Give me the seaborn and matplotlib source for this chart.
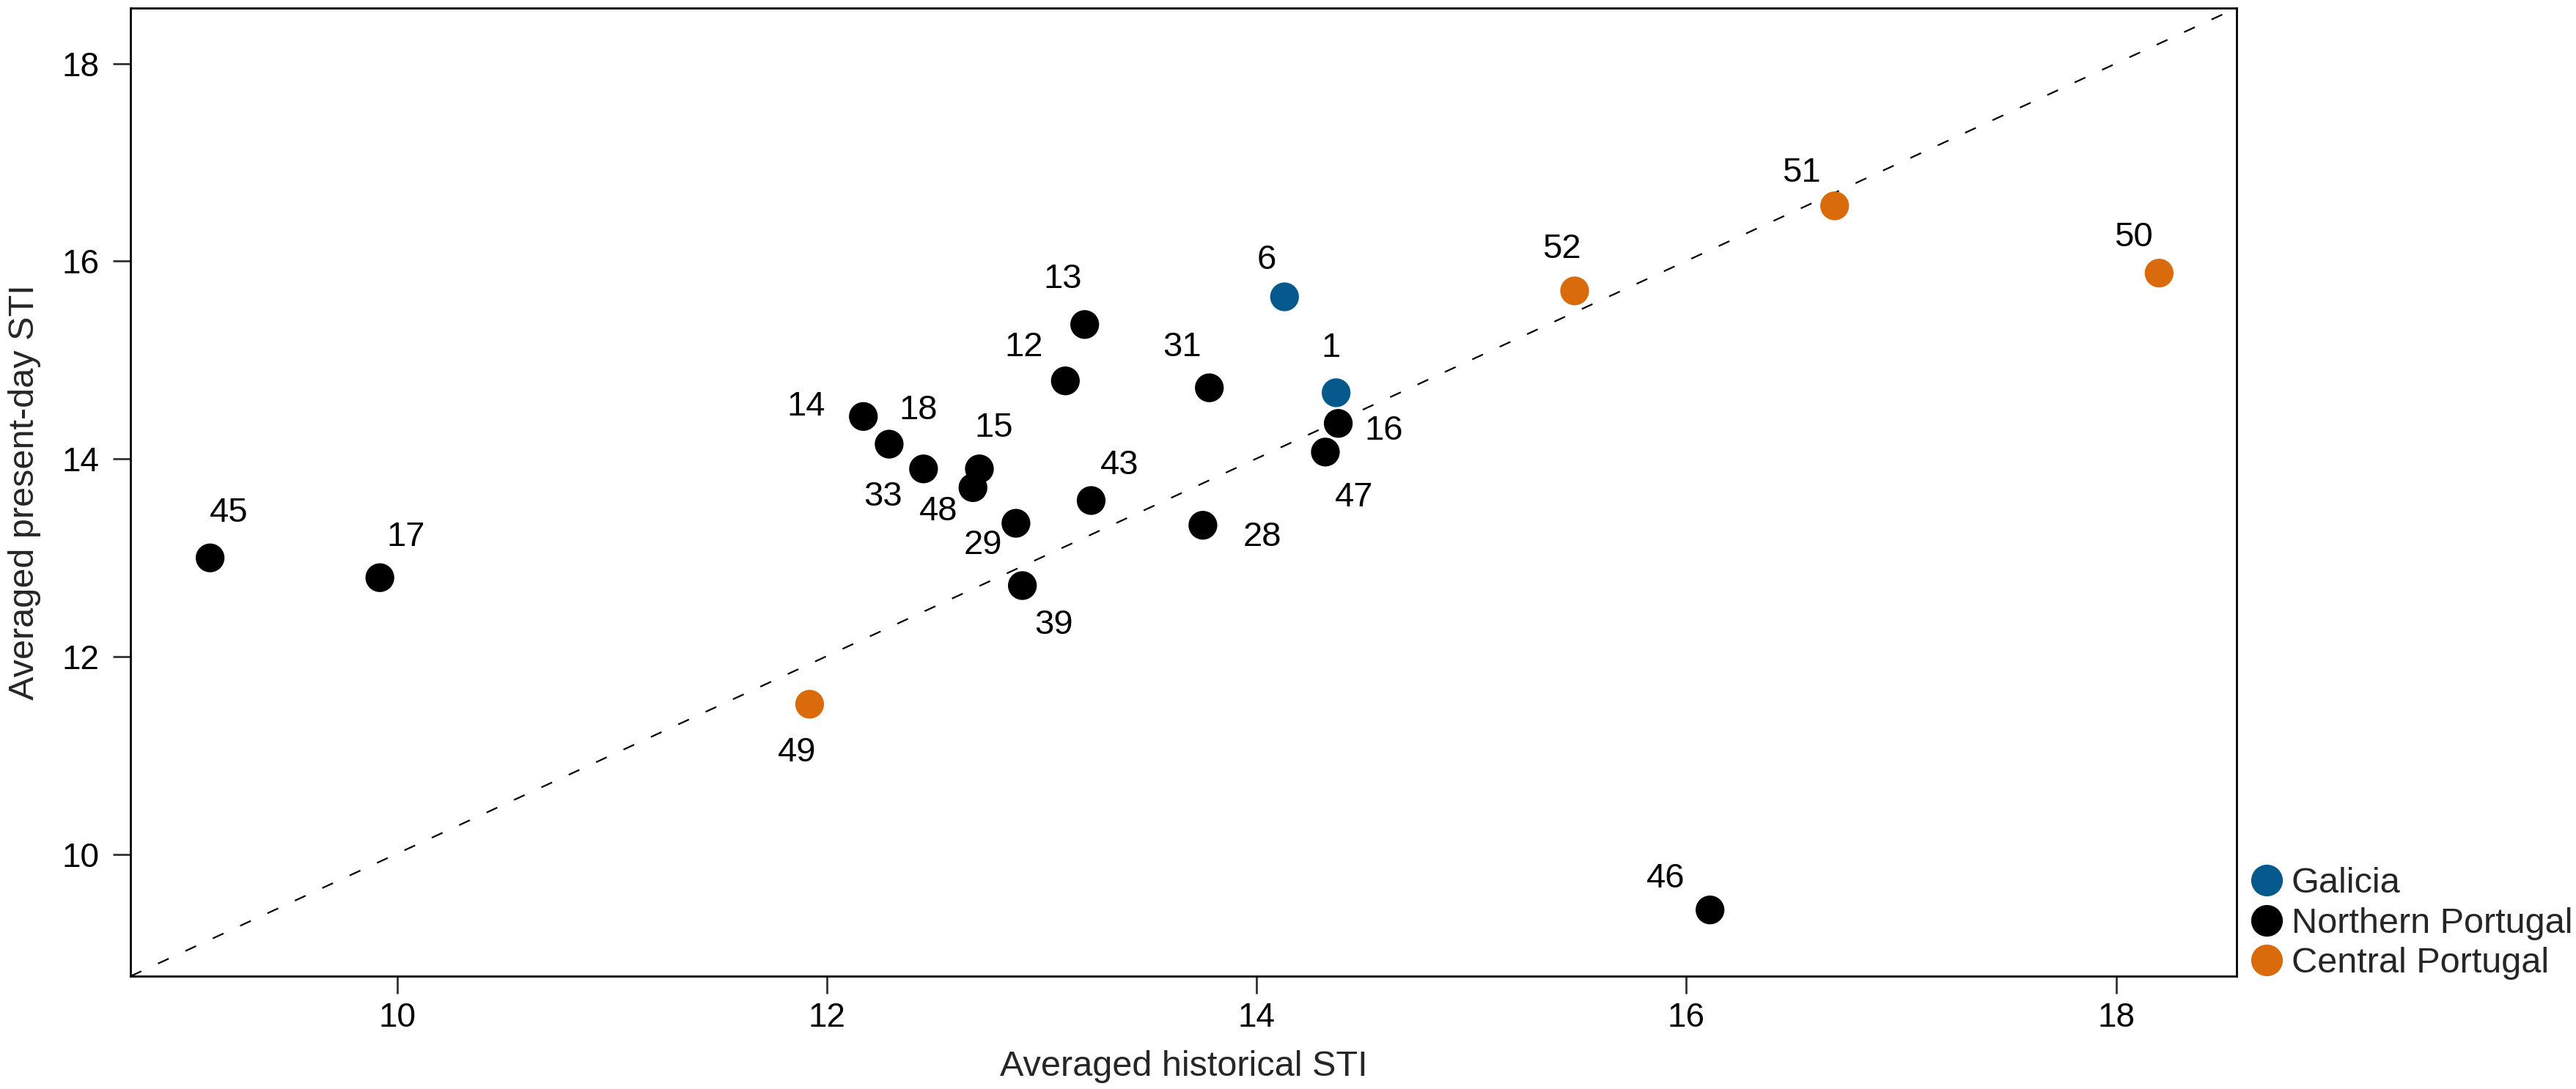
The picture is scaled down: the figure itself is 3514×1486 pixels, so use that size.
import numpy as np
import pandas as pd
import matplotlib.pyplot as plt
import seaborn as sns

# site numbers, averaged STI values and region
sites = ['45', '17', '49', '14', '18', '33', '15', '48', '29', '39', '12', '13',
         '43', '6', '31', '1', '16', '47', '28', '46', '52', '51', '50']
hist_sti = [9.13, 9.92, 11.92, 12.17, 12.29, 12.45, 12.71, 12.68, 12.88, 12.91, 13.11, 13.20,
            13.23, 14.13, 13.78, 14.37, 14.38, 14.32, 13.75, 16.11, 15.48, 16.69, 18.20]
present_sti = [13.00, 12.80, 11.52, 14.43, 14.15, 13.90, 13.90, 13.71, 13.35, 12.72, 14.79, 15.36,
               13.58, 15.64, 14.72, 14.67, 14.36, 14.07, 13.33, 9.44, 15.70, 16.56, 15.88]
region = ['Northern Portugal', 'Northern Portugal', 'Central Portugal', 'Northern Portugal',
          'Northern Portugal', 'Northern Portugal', 'Northern Portugal', 'Northern Portugal',
          'Northern Portugal', 'Northern Portugal', 'Northern Portugal', 'Northern Portugal',
          'Northern Portugal', 'Galicia', 'Northern Portugal', 'Galicia', 'Northern Portugal',
          'Northern Portugal', 'Northern Portugal', 'Northern Portugal', 'Central Portugal',
          'Central Portugal', 'Central Portugal']
regions = ['Galicia', 'Northern Portugal', 'Central Portugal']
colors = ['#05598c', '#000000', '#d96b0c']

# label offsets from the point, in pixels (dx right, dy down)
label_dx = [26, 35, -17, -78, 40, -55, 20, -47, -45, 43, -57, -30,
            39, -24, -37, -7, 62, 39, 81, -60, -18, -45, -35]
label_dy = [-61, -55, 66, -13, -46, 38, -56, 33, 30, 54, -46, -62,
            -48, -50, -55, -61, 10, 62, 16, -43, -57, -45, -49]

df = pd.DataFrame({'site': sites, 'hist': hist_sti, 'present': present_sti, 'region': region})

sns.set_style('white')
plt.rcParams['font.family'] = ['Liberation Sans', 'DejaVu Sans']
plt.rcParams['lines.scale_dashes'] = False

fig = plt.figure(figsize=(17.57, 7.43), dpi=200)
ax = fig.add_axes([0.0507, 0.1036, 0.8175, 0.889])

ax.plot([0, 1], [0, 1], transform=ax.transAxes, color='black', lw=0.8,
        linestyle=(0, (5.8, 9)), zorder=1)

sns.scatterplot(data=df, x='hist', y='present', hue='region', hue_order=regions,
                palette=dict(zip(regions, colors)), s=200, linewidth=0, ax=ax, zorder=3)

px = 72 / 200
for i in range(len(sites)):
    ax.annotate(sites[i], (hist_sti[i], present_sti[i]),
                xytext=(label_dx[i] * px, -label_dy[i] * px), textcoords='offset points',
                ha='center', va='center', fontsize=17, color='black')

ax.set_xlim(8.76, 18.56)
ax.set_ylim(8.77, 18.56)
ax.set_xticks([10, 12, 14, 16, 18])
ax.set_yticks([10, 12, 14, 16, 18])
ax.tick_params(axis='both', which='major', direction='out', length=8.5, width=1,
               color='#333333', labelsize=16.5, labelcolor='black')
ax.tick_params(axis='y', pad=7)
ax.tick_params(axis='x', pad=4)
ax.tick_params(bottom=True, left=True)
for sp in ax.spines.values():
    sp.set_visible(True)
    sp.set_color('black')
    sp.set_linewidth(1.0)

ax.set_xlabel('Averaged historical STI', fontsize=17.5, labelpad=8)
ax.set_ylabel('Averaged present-day STI', fontsize=17.5, labelpad=10)

leg = ax.legend(loc='lower left', bbox_to_anchor=(0.866, 0.087), bbox_transform=fig.transFigure,
                frameon=False, fontsize=17.5, handletextpad=0.1, labelspacing=0.2,
                borderaxespad=0, handlelength=1.2, markerscale=1.1)
leg.set_title(None)

fig.savefig('out.png', dpi=200)
